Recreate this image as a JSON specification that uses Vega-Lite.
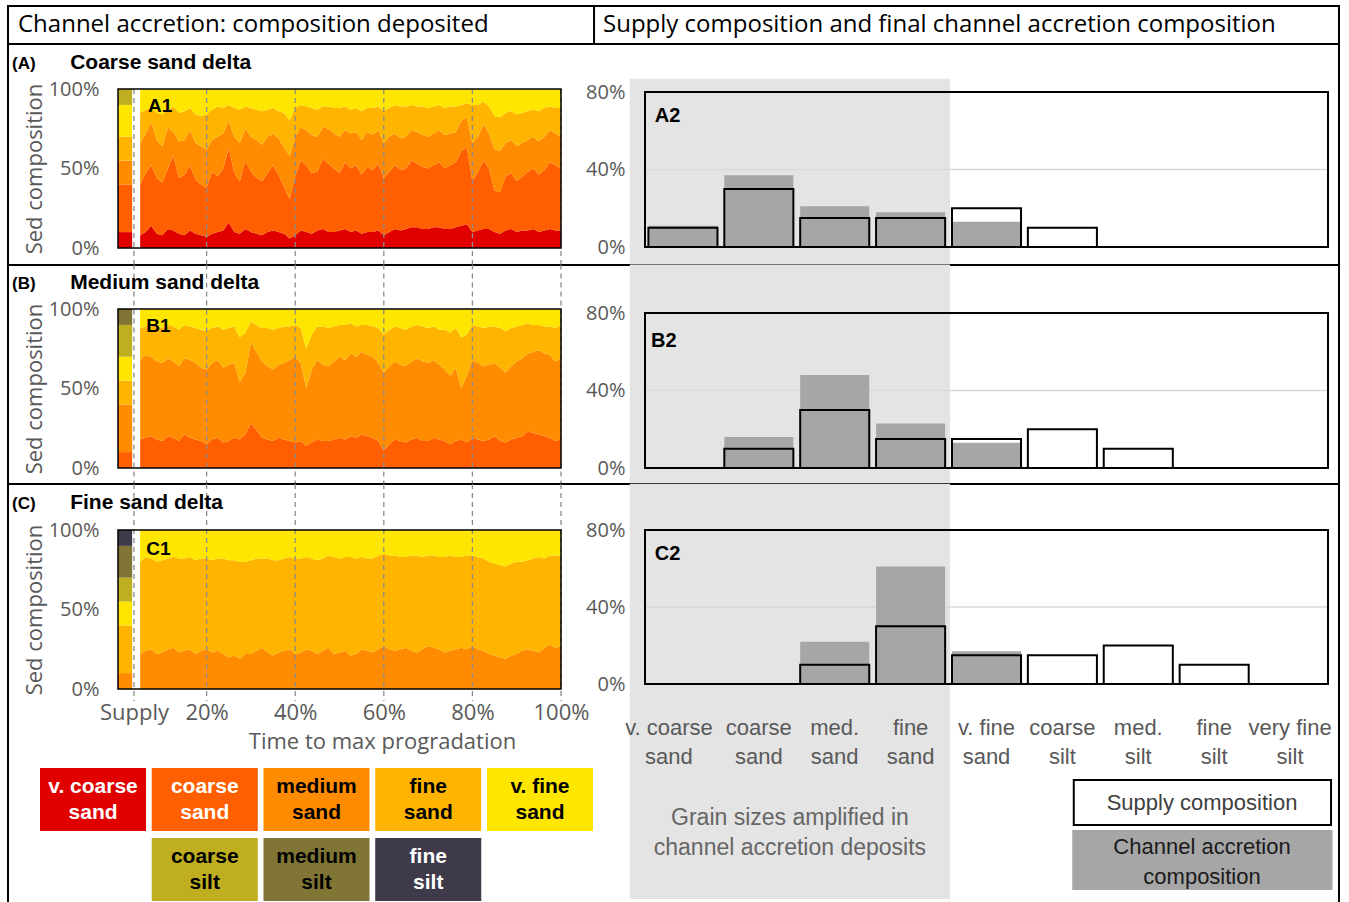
{
 "$schema": "https://vega.github.io/schema/vega-lite/v6.json",
 "background": "white",
 "padding": {"left": 7, "top": 4, "right": 0, "bottom": 0},
 "spacing": 0,
 "bounds": "flush",
 "config": {
  "view": {"stroke": "black", "strokeWidth": 2},
  "font": "Liberation Sans",
  "axis": {"labelFont": "Open Sans", "titleFont": "Open Sans", "labelColor": "#595959", "titleColor": "#595959", "domain": false, "ticks": false, "grid": false, "titleFontWeight": "normal"}
 },
 "datasets": {
  "bars": [
   {"panel": "A", "grain": "v. coarse sand", "rank": 1, "supply": 10, "channel": 11},
   {"panel": "A", "grain": "coarse sand", "rank": 2, "supply": 30, "channel": 37},
   {"panel": "A", "grain": "med. sand", "rank": 3, "supply": 15, "channel": 21},
   {"panel": "A", "grain": "fine sand", "rank": 4, "supply": 15, "channel": 18},
   {"panel": "A", "grain": "v. fine sand", "rank": 5, "supply": 20, "channel": 13},
   {"panel": "A", "grain": "coarse silt", "rank": 6, "supply": 10, "channel": 0},
   {"panel": "B", "grain": "coarse sand", "rank": 2, "supply": 10, "channel": 16},
   {"panel": "B", "grain": "med. sand", "rank": 3, "supply": 30, "channel": 48},
   {"panel": "B", "grain": "fine sand", "rank": 4, "supply": 15, "channel": 23},
   {"panel": "B", "grain": "v. fine sand", "rank": 5, "supply": 15, "channel": 13},
   {"panel": "B", "grain": "coarse silt", "rank": 6, "supply": 20, "channel": 0},
   {"panel": "B", "grain": "med. silt", "rank": 7, "supply": 10, "channel": 0},
   {"panel": "C", "grain": "med. sand", "rank": 3, "supply": 10, "channel": 22},
   {"panel": "C", "grain": "fine sand", "rank": 4, "supply": 30, "channel": 61},
   {"panel": "C", "grain": "v. fine sand", "rank": 5, "supply": 15, "channel": 17},
   {"panel": "C", "grain": "coarse silt", "rank": 6, "supply": 15, "channel": 0},
   {"panel": "C", "grain": "med. silt", "rank": 7, "supply": 20, "channel": 0},
   {"panel": "C", "grain": "fine silt", "rank": 8, "supply": 10, "channel": 0}
  ],
  "legend": [
   {"grain": "v. coarse sand", "size": "v. coarse", "type": "sand", "lines": ["v. coarse", "sand"]},
   {"grain": "coarse sand", "size": "coarse", "type": "sand", "lines": ["coarse", "sand"]},
   {"grain": "medium sand", "size": "medium", "type": "sand", "lines": ["medium", "sand"]},
   {"grain": "fine sand", "size": "fine", "type": "sand", "lines": ["fine", "sand"]},
   {"grain": "v. fine sand", "size": "v. fine", "type": "sand", "lines": ["v. fine", "sand"]},
   {"grain": "coarse silt", "size": "coarse", "type": "silt", "lines": ["coarse", "silt"]},
   {"grain": "medium silt", "size": "medium", "type": "silt", "lines": ["medium", "silt"]},
   {"grain": "fine silt", "size": "fine", "type": "silt", "lines": ["fine", "silt"]}
  ],
  "a1": [
   {"t": 5, "b1": 8, "b2": 40, "b3": 66, "b4": 85},
   {"t": 6.25, "b1": 10, "b2": 47, "b3": 72, "b4": 87},
   {"t": 7.5, "b1": 14, "b2": 52, "b3": 79, "b4": 88},
   {"t": 8.75, "b1": 9, "b2": 44, "b3": 68, "b4": 85},
   {"t": 10, "b1": 8, "b2": 41, "b3": 64, "b4": 84},
   {"t": 11.25, "b1": 12, "b2": 50, "b3": 76, "b4": 87},
   {"t": 12.5, "b1": 11, "b2": 58, "b3": 73, "b4": 89},
   {"t": 13.75, "b1": 9, "b2": 44, "b3": 67, "b4": 85},
   {"t": 15, "b1": 8, "b2": 46, "b3": 68, "b4": 86},
   {"t": 16.25, "b1": 11, "b2": 52, "b3": 74, "b4": 88},
   {"t": 17.5, "b1": 9, "b2": 43, "b3": 66, "b4": 84},
   {"t": 18.75, "b1": 8, "b2": 40, "b3": 64, "b4": 83},
   {"t": 20, "b1": 7, "b2": 38, "b3": 62, "b4": 84},
   {"t": 21.25, "b1": 9, "b2": 48, "b3": 68, "b4": 87},
   {"t": 22.5, "b1": 10, "b2": 45, "b3": 70, "b4": 89},
   {"t": 23.75, "b1": 11, "b2": 50, "b3": 72, "b4": 88},
   {"t": 25, "b1": 16, "b2": 63, "b3": 80, "b4": 90},
   {"t": 26.25, "b1": 10, "b2": 47, "b3": 70, "b4": 88},
   {"t": 27.5, "b1": 9, "b2": 42, "b3": 66, "b4": 87},
   {"t": 28.75, "b1": 12, "b2": 55, "b3": 75, "b4": 89},
   {"t": 30, "b1": 10, "b2": 48, "b3": 70, "b4": 88},
   {"t": 31.25, "b1": 9, "b2": 44, "b3": 68, "b4": 87},
   {"t": 32.5, "b1": 8, "b2": 42, "b3": 65, "b4": 86},
   {"t": 33.75, "b1": 10, "b2": 47, "b3": 70, "b4": 87},
   {"t": 35, "b1": 11, "b2": 52, "b3": 72, "b4": 88},
   {"t": 36.25, "b1": 10, "b2": 46, "b3": 69, "b4": 86},
   {"t": 37.5, "b1": 9, "b2": 38, "b3": 63, "b4": 85},
   {"t": 38.75, "b1": 6, "b2": 31, "b3": 58, "b4": 80},
   {"t": 40, "b1": 8, "b2": 45, "b3": 70, "b4": 88},
   {"t": 41.25, "b1": 11, "b2": 55, "b3": 76, "b4": 90},
   {"t": 42.5, "b1": 10, "b2": 52, "b3": 74, "b4": 89},
   {"t": 43.75, "b1": 9, "b2": 47, "b3": 71, "b4": 88},
   {"t": 45, "b1": 11, "b2": 48, "b3": 70, "b4": 87},
   {"t": 46.25, "b1": 12, "b2": 56, "b3": 76, "b4": 89},
   {"t": 47.5, "b1": 10, "b2": 53, "b3": 75, "b4": 89},
   {"t": 48.75, "b1": 10, "b2": 50, "b3": 72, "b4": 88},
   {"t": 50, "b1": 11, "b2": 47, "b3": 70, "b4": 88},
   {"t": 51.25, "b1": 12, "b2": 54, "b3": 74, "b4": 89},
   {"t": 52.5, "b1": 10, "b2": 50, "b3": 72, "b4": 87},
   {"t": 53.75, "b1": 11, "b2": 52, "b3": 73, "b4": 88},
   {"t": 55, "b1": 9, "b2": 46, "b3": 68, "b4": 86},
   {"t": 56.25, "b1": 10, "b2": 51, "b3": 73, "b4": 88},
   {"t": 57.5, "b1": 10, "b2": 49, "b3": 71, "b4": 88},
   {"t": 58.75, "b1": 11, "b2": 53, "b3": 74, "b4": 89},
   {"t": 60, "b1": 8, "b2": 44, "b3": 66, "b4": 86},
   {"t": 61.25, "b1": 10, "b2": 48, "b3": 70, "b4": 88},
   {"t": 62.5, "b1": 12, "b2": 52, "b3": 72, "b4": 90},
   {"t": 63.75, "b1": 11, "b2": 49, "b3": 69, "b4": 89},
   {"t": 65, "b1": 12, "b2": 50, "b3": 70, "b4": 89},
   {"t": 66.25, "b1": 13, "b2": 55, "b3": 74, "b4": 90},
   {"t": 67.5, "b1": 13, "b2": 53, "b3": 73, "b4": 89},
   {"t": 68.75, "b1": 12, "b2": 51, "b3": 71, "b4": 89},
   {"t": 70, "b1": 12, "b2": 50, "b3": 70, "b4": 88},
   {"t": 71.25, "b1": 13, "b2": 52, "b3": 72, "b4": 89},
   {"t": 72.5, "b1": 13, "b2": 54, "b3": 74, "b4": 90},
   {"t": 73.75, "b1": 12, "b2": 50, "b3": 71, "b4": 88},
   {"t": 75, "b1": 12, "b2": 52, "b3": 72, "b4": 89},
   {"t": 76.25, "b1": 13, "b2": 54, "b3": 73, "b4": 89},
   {"t": 77.5, "b1": 14, "b2": 61, "b3": 80, "b4": 90},
   {"t": 78.75, "b1": 15, "b2": 63, "b3": 82, "b4": 91},
   {"t": 80, "b1": 10, "b2": 42, "b3": 66, "b4": 90},
   {"t": 81.25, "b1": 11, "b2": 48, "b3": 70, "b4": 90},
   {"t": 82.5, "b1": 12, "b2": 55, "b3": 78, "b4": 92},
   {"t": 83.75, "b1": 12, "b2": 50, "b3": 72, "b4": 89},
   {"t": 85, "b1": 10, "b2": 36, "b3": 62, "b4": 83},
   {"t": 86.25, "b1": 9, "b2": 35, "b3": 61, "b4": 82},
   {"t": 87.5, "b1": 11, "b2": 45, "b3": 66, "b4": 85},
   {"t": 88.75, "b1": 12, "b2": 47, "b3": 68, "b4": 86},
   {"t": 90, "b1": 10, "b2": 42, "b3": 64, "b4": 84},
   {"t": 91.25, "b1": 11, "b2": 45, "b3": 66, "b4": 85},
   {"t": 92.5, "b1": 11, "b2": 48, "b3": 68, "b4": 86},
   {"t": 93.75, "b1": 12, "b2": 50, "b3": 70, "b4": 87},
   {"t": 95, "b1": 10, "b2": 46, "b3": 67, "b4": 86},
   {"t": 96.25, "b1": 11, "b2": 49, "b3": 70, "b4": 88},
   {"t": 97.5, "b1": 12, "b2": 54, "b3": 74, "b4": 89},
   {"t": 98.75, "b1": 11, "b2": 52, "b3": 72, "b4": 88},
   {"t": 100, "b1": 11, "b2": 50, "b3": 70, "b4": 88}
  ],
  "b1": [
   {"t": 5, "b1": 18, "b2": 68, "b3": 88},
   {"t": 6.25, "b1": 19, "b2": 71, "b3": 89},
   {"t": 7.5, "b1": 20, "b2": 70, "b3": 90},
   {"t": 8.75, "b1": 18, "b2": 67, "b3": 89},
   {"t": 10, "b1": 17, "b2": 66, "b3": 88},
   {"t": 11.25, "b1": 20, "b2": 69, "b3": 90},
   {"t": 12.5, "b1": 19, "b2": 67, "b3": 89},
   {"t": 13.75, "b1": 17, "b2": 64, "b3": 87},
   {"t": 15, "b1": 21, "b2": 69, "b3": 90},
   {"t": 16.25, "b1": 19, "b2": 68, "b3": 89},
   {"t": 17.5, "b1": 18, "b2": 66, "b3": 88},
   {"t": 18.75, "b1": 17, "b2": 63, "b3": 87},
   {"t": 20, "b1": 15, "b2": 62, "b3": 86},
   {"t": 21.25, "b1": 18, "b2": 66, "b3": 88},
   {"t": 22.5, "b1": 19, "b2": 68, "b3": 89},
   {"t": 23.75, "b1": 16, "b2": 63, "b3": 87},
   {"t": 25, "b1": 17, "b2": 65, "b3": 88},
   {"t": 26.25, "b1": 19, "b2": 66, "b3": 89},
   {"t": 27.5, "b1": 18, "b2": 54, "b3": 82},
   {"t": 28.75, "b1": 21, "b2": 60, "b3": 85},
   {"t": 30, "b1": 28, "b2": 79, "b3": 92},
   {"t": 31.25, "b1": 24, "b2": 73, "b3": 90},
   {"t": 32.5, "b1": 19, "b2": 67, "b3": 88},
   {"t": 33.75, "b1": 18, "b2": 64, "b3": 88},
   {"t": 35, "b1": 17, "b2": 62, "b3": 87},
   {"t": 36.25, "b1": 19, "b2": 65, "b3": 88},
   {"t": 37.5, "b1": 18, "b2": 66, "b3": 89},
   {"t": 38.75, "b1": 17, "b2": 68, "b3": 89},
   {"t": 40, "b1": 16, "b2": 70, "b3": 90},
   {"t": 41.25, "b1": 17, "b2": 66, "b3": 88},
   {"t": 42.5, "b1": 14, "b2": 50, "b3": 75},
   {"t": 43.75, "b1": 16, "b2": 62, "b3": 84},
   {"t": 45, "b1": 18, "b2": 68, "b3": 89},
   {"t": 46.25, "b1": 17, "b2": 65, "b3": 89},
   {"t": 47.5, "b1": 17, "b2": 64, "b3": 88},
   {"t": 48.75, "b1": 18, "b2": 67, "b3": 89},
   {"t": 50, "b1": 19, "b2": 70, "b3": 90},
   {"t": 51.25, "b1": 18, "b2": 68, "b3": 90},
   {"t": 52.5, "b1": 20, "b2": 72, "b3": 91},
   {"t": 53.75, "b1": 19, "b2": 70, "b3": 89},
   {"t": 55, "b1": 21, "b2": 73, "b3": 90},
   {"t": 56.25, "b1": 20, "b2": 71, "b3": 90},
   {"t": 57.5, "b1": 19, "b2": 70, "b3": 89},
   {"t": 58.75, "b1": 17, "b2": 66, "b3": 88},
   {"t": 60, "b1": 11, "b2": 60, "b3": 84},
   {"t": 61.25, "b1": 15, "b2": 64, "b3": 87},
   {"t": 62.5, "b1": 18, "b2": 67, "b3": 89},
   {"t": 63.75, "b1": 17, "b2": 65, "b3": 88},
   {"t": 65, "b1": 16, "b2": 64, "b3": 87},
   {"t": 66.25, "b1": 18, "b2": 67, "b3": 89},
   {"t": 67.5, "b1": 19, "b2": 69, "b3": 90},
   {"t": 68.75, "b1": 17, "b2": 67, "b3": 89},
   {"t": 70, "b1": 17, "b2": 66, "b3": 88},
   {"t": 71.25, "b1": 19, "b2": 68, "b3": 89},
   {"t": 72.5, "b1": 18, "b2": 65, "b3": 87},
   {"t": 73.75, "b1": 17, "b2": 62, "b3": 87},
   {"t": 75, "b1": 15, "b2": 58, "b3": 85},
   {"t": 76.25, "b1": 17, "b2": 63, "b3": 88},
   {"t": 77.5, "b1": 18, "b2": 50, "b3": 82},
   {"t": 78.75, "b1": 16, "b2": 58, "b3": 84},
   {"t": 80, "b1": 19, "b2": 68, "b3": 90},
   {"t": 81.25, "b1": 18, "b2": 66, "b3": 89},
   {"t": 82.5, "b1": 17, "b2": 64, "b3": 88},
   {"t": 83.75, "b1": 18, "b2": 65, "b3": 89},
   {"t": 85, "b1": 20, "b2": 66, "b3": 89},
   {"t": 86.25, "b1": 17, "b2": 63, "b3": 88},
   {"t": 87.5, "b1": 16, "b2": 60, "b3": 86},
   {"t": 88.75, "b1": 18, "b2": 64, "b3": 88},
   {"t": 90, "b1": 19, "b2": 67, "b3": 89},
   {"t": 91.25, "b1": 20, "b2": 69, "b3": 90},
   {"t": 92.5, "b1": 23, "b2": 72, "b3": 91},
   {"t": 93.75, "b1": 22, "b2": 73, "b3": 90},
   {"t": 95, "b1": 21, "b2": 74, "b3": 90},
   {"t": 96.25, "b1": 20, "b2": 72, "b3": 89},
   {"t": 97.5, "b1": 19, "b2": 71, "b3": 89},
   {"t": 98.75, "b1": 17, "b2": 67, "b3": 88},
   {"t": 100, "b1": 18, "b2": 69, "b3": 90}
  ],
  "c1": [
   {"t": 5, "b1": 22, "b2": 80},
   {"t": 6.25, "b1": 24, "b2": 83},
   {"t": 7.5, "b1": 25, "b2": 82},
   {"t": 8.75, "b1": 22, "b2": 80},
   {"t": 10, "b1": 23, "b2": 81},
   {"t": 11.25, "b1": 25, "b2": 82},
   {"t": 12.5, "b1": 26, "b2": 83},
   {"t": 13.75, "b1": 23, "b2": 82},
   {"t": 15, "b1": 24, "b2": 82},
   {"t": 16.25, "b1": 25, "b2": 83},
   {"t": 17.5, "b1": 22, "b2": 81},
   {"t": 18.75, "b1": 24, "b2": 82},
   {"t": 20, "b1": 25, "b2": 82},
   {"t": 21.25, "b1": 23, "b2": 81},
   {"t": 22.5, "b1": 24, "b2": 82},
   {"t": 23.75, "b1": 22, "b2": 82},
   {"t": 25, "b1": 20, "b2": 81},
   {"t": 26.25, "b1": 21, "b2": 81},
   {"t": 27.5, "b1": 19, "b2": 80},
   {"t": 28.75, "b1": 22, "b2": 80},
   {"t": 30, "b1": 22, "b2": 81},
   {"t": 31.25, "b1": 24, "b2": 82},
   {"t": 32.5, "b1": 26, "b2": 82},
   {"t": 33.75, "b1": 23, "b2": 82},
   {"t": 35, "b1": 21, "b2": 81},
   {"t": 36.25, "b1": 23, "b2": 81},
   {"t": 37.5, "b1": 24, "b2": 82},
   {"t": 38.75, "b1": 25, "b2": 83},
   {"t": 40, "b1": 22, "b2": 82},
   {"t": 41.25, "b1": 23, "b2": 82},
   {"t": 42.5, "b1": 25, "b2": 83},
   {"t": 43.75, "b1": 24, "b2": 82},
   {"t": 45, "b1": 22, "b2": 81},
   {"t": 46.25, "b1": 24, "b2": 82},
   {"t": 47.5, "b1": 26, "b2": 84},
   {"t": 48.75, "b1": 22, "b2": 83},
   {"t": 50, "b1": 23, "b2": 82},
   {"t": 51.25, "b1": 24, "b2": 83},
   {"t": 52.5, "b1": 21, "b2": 83},
   {"t": 53.75, "b1": 22, "b2": 82},
   {"t": 55, "b1": 25, "b2": 83},
   {"t": 56.25, "b1": 24, "b2": 82},
   {"t": 57.5, "b1": 23, "b2": 82},
   {"t": 58.75, "b1": 25, "b2": 84},
   {"t": 60, "b1": 27, "b2": 85},
   {"t": 61.25, "b1": 25, "b2": 84},
   {"t": 62.5, "b1": 24, "b2": 84},
   {"t": 63.75, "b1": 25, "b2": 83},
   {"t": 65, "b1": 26, "b2": 83},
   {"t": 66.25, "b1": 24, "b2": 84},
   {"t": 67.5, "b1": 23, "b2": 84},
   {"t": 68.75, "b1": 25, "b2": 83},
   {"t": 70, "b1": 27, "b2": 84},
   {"t": 71.25, "b1": 26, "b2": 84},
   {"t": 72.5, "b1": 25, "b2": 83},
   {"t": 73.75, "b1": 23, "b2": 83},
   {"t": 75, "b1": 24, "b2": 84},
   {"t": 76.25, "b1": 25, "b2": 83},
   {"t": 77.5, "b1": 26, "b2": 83},
   {"t": 78.75, "b1": 25, "b2": 84},
   {"t": 80, "b1": 27, "b2": 84},
   {"t": 81.25, "b1": 25, "b2": 83},
   {"t": 82.5, "b1": 24, "b2": 82},
   {"t": 83.75, "b1": 22, "b2": 80},
   {"t": 85, "b1": 21, "b2": 79},
   {"t": 86.25, "b1": 20, "b2": 78},
   {"t": 87.5, "b1": 19, "b2": 77},
   {"t": 88.75, "b1": 21, "b2": 79},
   {"t": 90, "b1": 22, "b2": 80},
   {"t": 91.25, "b1": 24, "b2": 80},
   {"t": 92.5, "b1": 25, "b2": 81},
   {"t": 93.75, "b1": 24, "b2": 82},
   {"t": 95, "b1": 23, "b2": 83},
   {"t": 96.25, "b1": 26, "b2": 82},
   {"t": 97.5, "b1": 28, "b2": 84},
   {"t": 98.75, "b1": 26, "b2": 84},
   {"t": 100, "b1": 27, "b2": 84}
  ],
  "ticks": [{"tick": 3.6}, {"tick": 20}, {"tick": 40}, {"tick": 60}, {"tick": 80}, {"tick": 100}]
 },
 "vconcat": [
  {
   "width": 1331, "height": 38,
   "data": {"values": [{"left": "Channel accretion: composition deposited", "right": "Supply composition and final channel accretion composition"}]},
   "layer": [
    {"mark": {"type": "rule", "color": "black", "strokeWidth": 2}, "encoding": {"x": {"datum": 0.4403, "type": "quantitative", "scale": {"domain": [0, 1], "nice": false, "zero": false}, "axis": null}}},
    {"mark": {"type": "text", "align": "left", "baseline": "middle", "dx": 10, "font": "Open Sans", "fontSize": 24, "color": "black"}, "encoding": {"x": {"datum": 0, "type": "quantitative"}, "text": {"field": "left"}}},
    {"mark": {"type": "text", "align": "left", "baseline": "middle", "dx": 9, "font": "Open Sans", "fontSize": 24, "color": "black"}, "encoding": {"x": {"datum": 0.4403, "type": "quantitative"}, "text": {"field": "right"}}}
   ]
  },
  {
   "width": 1331, "height": 221,
   "resolve": {"scale": {"x": "independent", "y": "independent", "color": "independent"}, "axis": {"x": "independent", "y": "independent"}},
   "layer": [
    {
     "data": {"values": [{"panel": "A2"}]},
     "layer": [
      {"mark": {"type": "rect", "color": "#e4e4e4"}, "encoding": {"x": {"datum": -0.2, "type": "quantitative", "scale": {"domain": [0, 9], "range": [637, 1320], "nice": false, "zero": false}, "axis": null}, "x2": {"datum": 4.02}, "y": {"datum": -9.5, "type": "quantitative", "scale": {"domain": [0, 80], "range": [203, 48], "nice": false, "zero": false}, "axis": null}, "y2": {"datum": 86.9}}},
      {"mark": {"type": "rule", "color": "#d9d9d9", "strokeWidth": 1.5}, "encoding": {"x": {"datum": 0, "type": "quantitative"}, "x2": {"datum": 9}, "y": {"datum": 40, "type": "quantitative"}}},
      {"mark": {"type": "rect", "filled": false, "color": "black", "strokeWidth": 2}, "encoding": {"x": {"datum": 0, "type": "quantitative"}, "x2": {"datum": 9}, "y": {"datum": 0, "type": "quantitative"}, "y2": {"datum": 80}}},
      {"mark": {"type": "text", "align": "left", "baseline": "middle", "fontSize": 20, "fontWeight": "bold", "color": "black"}, "encoding": {"x": {"datum": 0.13, "type": "quantitative"}, "y": {"datum": 67.4, "type": "quantitative"}, "text": {"field": "panel"}}}
     ]
    },
    {
     "data": {"name": "a1"},
     "layer": [
      {"mark": {"type": "area", "color": "#e00000"}, "encoding": {"x": {"field": "t", "type": "quantitative", "scale": {"domain": [0, 100], "range": [110, 553], "nice": false, "zero": false}, "axis": null}, "y": {"field": "b1", "type": "quantitative", "scale": {"domain": [0, 100], "range": [204, 45], "nice": false}, "axis": {"orient": "left", "offset": -110, "values": [0, 50, 100], "labelExpr": "datum.value + '%'", "labelFontSize": 20, "labelPadding": 19, "title": "Sed composition", "titleFontSize": 22, "titlePadding": 2}}}},
      {"mark": {"type": "area", "color": "#ff5f00"}, "encoding": {"x": {"field": "t", "type": "quantitative"}, "y": {"field": "b2", "type": "quantitative"}, "y2": {"field": "b1"}}},
      {"mark": {"type": "area", "color": "#ff8c00"}, "encoding": {"x": {"field": "t", "type": "quantitative"}, "y": {"field": "b3", "type": "quantitative"}, "y2": {"field": "b2"}}},
      {"mark": {"type": "area", "color": "#ffb400"}, "encoding": {"x": {"field": "t", "type": "quantitative"}, "y": {"field": "b4", "type": "quantitative"}, "y2": {"field": "b3"}}},
      {"mark": {"type": "area", "color": "#ffe600"}, "encoding": {"x": {"field": "t", "type": "quantitative"}, "y": {"field": "b4", "type": "quantitative"}, "y2": {"datum": 100}}},
      {"data": {"name": "bars"}, "transform": [{"filter": "datum.panel == 'A'"}, {"stack": "supply", "groupby": [], "sort": [{"field": "rank", "order": "ascending"}], "as": ["s0", "s1"]}], "mark": {"type": "rect"}, "encoding": {"x": {"datum": 0, "type": "quantitative"}, "x2": {"datum": 3.2}, "y": {"field": "s0", "type": "quantitative"}, "y2": {"field": "s1"}, "color": {"field": "grain", "type": "nominal", "scale": {"domain": ["v. coarse sand", "coarse sand", "med. sand", "fine sand", "v. fine sand", "coarse silt", "med. silt", "fine silt"], "range": ["#e00000", "#ff5f00", "#ff8c00", "#ffb400", "#ffe600", "#bfae1f", "#807535", "#3e3a4a"]}, "legend": null}}},
      {"data": {"name": "ticks"}, "mark": {"type": "rule", "color": "#8c8c8c", "strokeDash": [5, 4], "strokeWidth": 1.3}, "encoding": {"x": {"field": "tick", "type": "quantitative"}, "y": {"datum": 100, "type": "quantitative"}, "y2": {"datum": -11}}},
      {"data": {"values": [{}]}, "mark": {"type": "rect", "filled": false, "color": "black", "strokeWidth": 1.5}, "encoding": {"x": {"datum": 0, "type": "quantitative"}, "x2": {"datum": 100}, "y": {"datum": 0, "type": "quantitative"}, "y2": {"datum": 100}}},
      {"data": {"values": [{"panel": "A1"}]}, "mark": {"type": "text", "align": "left", "baseline": "middle", "fontSize": 19, "fontWeight": "bold", "color": "black"}, "encoding": {"x": {"datum": 6.8, "type": "quantitative"}, "y": {"datum": 89, "type": "quantitative"}, "text": {"field": "panel"}}},
      {"data": {"values": [{"label": "(A)"}]}, "mark": {"type": "text", "align": "left", "baseline": "alphabetic", "fontSize": 17, "fontWeight": "bold", "color": "black"}, "encoding": {"x": {"datum": -23.9, "type": "quantitative"}, "y": {"datum": 112.6, "type": "quantitative"}, "text": {"field": "label"}}},
      {"data": {"values": [{"label": "Coarse sand delta"}]}, "mark": {"type": "text", "align": "left", "baseline": "alphabetic", "fontSize": 21, "fontWeight": "bold", "color": "black"}, "encoding": {"x": {"datum": -10.8, "type": "quantitative"}, "y": {"datum": 112.6, "type": "quantitative"}, "text": {"field": "label"}}}
     ]
    },
    {
     "data": {"name": "bars"},
     "transform": [{"filter": "datum.panel == 'A'"}],
     "layer": [
      {"mark": {"type": "bar", "color": "#a6a6a6"}, "encoding": {"x": {"field": "grain", "type": "nominal", "scale": {"domain": ["v. coarse sand", "coarse sand", "med. sand", "fine sand", "v. fine sand", "coarse silt", "med. silt", "fine silt", "very fine silt"], "range": [637, 1320], "paddingInner": 0.09, "paddingOuter": 0.045}, "axis": null}, "y": {"field": "channel", "type": "quantitative", "scale": {"domain": [0, 80], "range": [203, 48], "nice": false}, "axis": {"orient": "left", "offset": -637, "values": [0, 40, 80], "labelExpr": "datum.value + '%'", "labelFontSize": 20, "labelPadding": 20, "title": null, "zindex": 1}}}},
      {"mark": {"type": "bar", "fill": "transparent", "stroke": "black", "strokeWidth": 2}, "encoding": {"x": {"field": "grain", "type": "nominal"}, "y": {"field": "supply", "type": "quantitative"}}}
     ]
    }
   ]
  },
  {
   "width": 1331, "height": 219,
   "resolve": {"scale": {"x": "independent", "y": "independent", "color": "independent"}, "axis": {"x": "independent", "y": "independent"}},
   "layer": [
    {
     "data": {"values": [{"panel": "B2"}]},
     "layer": [
      {"mark": {"type": "rect", "color": "#e4e4e4"}, "encoding": {"x": {"datum": -0.2, "type": "quantitative", "scale": {"domain": [0, 9], "range": [637, 1320], "nice": false, "zero": false}, "axis": null}, "x2": {"datum": 4.02}, "y": {"datum": -9, "type": "quantitative", "scale": {"domain": [0, 80], "range": [203, 48], "nice": false, "zero": false}, "axis": null}, "y2": {"datum": 105}}},
      {"mark": {"type": "rule", "color": "#d9d9d9", "strokeWidth": 1.5}, "encoding": {"x": {"datum": 0, "type": "quantitative"}, "x2": {"datum": 9}, "y": {"datum": 40, "type": "quantitative"}}},
      {"mark": {"type": "rect", "filled": false, "color": "black", "strokeWidth": 2}, "encoding": {"x": {"datum": 0, "type": "quantitative"}, "x2": {"datum": 9}, "y": {"datum": 0, "type": "quantitative"}, "y2": {"datum": 80}}},
      {"mark": {"type": "text", "align": "left", "baseline": "middle", "fontSize": 20, "fontWeight": "bold", "color": "black"}, "encoding": {"x": {"datum": 0.08, "type": "quantitative"}, "y": {"datum": 65.5, "type": "quantitative"}, "text": {"field": "panel"}}}
     ]
    },
    {
     "data": {"name": "b1"},
     "layer": [
      {"mark": {"type": "area", "color": "#ff5f00"}, "encoding": {"x": {"field": "t", "type": "quantitative", "scale": {"domain": [0, 100], "range": [110, 553], "nice": false, "zero": false}, "axis": null}, "y": {"field": "b1", "type": "quantitative", "scale": {"domain": [0, 100], "range": [203, 44], "nice": false}, "axis": {"orient": "left", "offset": -110, "values": [0, 50, 100], "labelExpr": "datum.value + '%'", "labelFontSize": 20, "labelPadding": 19, "title": "Sed composition", "titleFontSize": 22, "titlePadding": 2}}}},
      {"mark": {"type": "area", "color": "#ff8c00"}, "encoding": {"x": {"field": "t", "type": "quantitative"}, "y": {"field": "b2", "type": "quantitative"}, "y2": {"field": "b1"}}},
      {"mark": {"type": "area", "color": "#ffb400"}, "encoding": {"x": {"field": "t", "type": "quantitative"}, "y": {"field": "b3", "type": "quantitative"}, "y2": {"field": "b2"}}},
      {"mark": {"type": "area", "color": "#ffe600"}, "encoding": {"x": {"field": "t", "type": "quantitative"}, "y": {"field": "b3", "type": "quantitative"}, "y2": {"datum": 100}}},
      {"data": {"name": "bars"}, "transform": [{"filter": "datum.panel == 'B'"}, {"stack": "supply", "groupby": [], "sort": [{"field": "rank", "order": "ascending"}], "as": ["s0", "s1"]}], "mark": {"type": "rect"}, "encoding": {"x": {"datum": 0, "type": "quantitative"}, "x2": {"datum": 3.2}, "y": {"field": "s0", "type": "quantitative"}, "y2": {"field": "s1"}, "color": {"field": "grain", "type": "nominal", "scale": {"domain": ["v. coarse sand", "coarse sand", "med. sand", "fine sand", "v. fine sand", "coarse silt", "med. silt", "fine silt"], "range": ["#e00000", "#ff5f00", "#ff8c00", "#ffb400", "#ffe600", "#bfae1f", "#807535", "#3e3a4a"]}, "legend": null}}},
      {"data": {"name": "ticks"}, "mark": {"type": "rule", "color": "#8c8c8c", "strokeDash": [5, 4], "strokeWidth": 1.3}, "encoding": {"x": {"field": "tick", "type": "quantitative"}, "y": {"datum": 128, "type": "quantitative"}, "y2": {"datum": -10}}},
      {"data": {"values": [{}]}, "mark": {"type": "rect", "filled": false, "color": "black", "strokeWidth": 1.5}, "encoding": {"x": {"datum": 0, "type": "quantitative"}, "x2": {"datum": 100}, "y": {"datum": 0, "type": "quantitative"}, "y2": {"datum": 100}}},
      {"data": {"values": [{"panel": "B1"}]}, "mark": {"type": "text", "align": "left", "baseline": "middle", "fontSize": 19, "fontWeight": "bold", "color": "black"}, "encoding": {"x": {"datum": 6.4, "type": "quantitative"}, "y": {"datum": 89, "type": "quantitative"}, "text": {"field": "panel"}}},
      {"data": {"values": [{"label": "(B)"}]}, "mark": {"type": "text", "align": "left", "baseline": "alphabetic", "fontSize": 17, "fontWeight": "bold", "color": "black"}, "encoding": {"x": {"datum": -23.9, "type": "quantitative"}, "y": {"datum": 112.6, "type": "quantitative"}, "text": {"field": "label"}}},
      {"data": {"values": [{"label": "Medium sand delta"}]}, "mark": {"type": "text", "align": "left", "baseline": "alphabetic", "fontSize": 21, "fontWeight": "bold", "color": "black"}, "encoding": {"x": {"datum": -10.8, "type": "quantitative"}, "y": {"datum": 112.6, "type": "quantitative"}, "text": {"field": "label"}}}
     ]
    },
    {
     "data": {"name": "bars"},
     "transform": [{"filter": "datum.panel == 'B'"}],
     "layer": [
      {"mark": {"type": "bar", "color": "#a6a6a6"}, "encoding": {"x": {"field": "grain", "type": "nominal", "scale": {"domain": ["v. coarse sand", "coarse sand", "med. sand", "fine sand", "v. fine sand", "coarse silt", "med. silt", "fine silt", "very fine silt"], "range": [637, 1320], "paddingInner": 0.09, "paddingOuter": 0.045}, "axis": null}, "y": {"field": "channel", "type": "quantitative", "scale": {"domain": [0, 80], "range": [203, 48], "nice": false}, "axis": {"orient": "left", "offset": -637, "values": [0, 40, 80], "labelExpr": "datum.value + '%'", "labelFontSize": 20, "labelPadding": 20, "title": null, "zindex": 1}}}},
      {"mark": {"type": "bar", "fill": "transparent", "stroke": "black", "strokeWidth": 2}, "encoding": {"x": {"field": "grain", "type": "nominal"}, "y": {"field": "supply", "type": "quantitative"}}}
     ]
    }
   ]
  },
  {
   "width": 1331, "height": 420,
   "resolve": {"scale": {"x": "independent", "y": "independent", "color": "independent"}, "axis": {"x": "independent", "y": "independent"}},
   "layer": [
    {
     "data": {"values": [{"panel": "C2"}]},
     "layer": [
      {"mark": {"type": "rect", "color": "#e4e4e4"}, "encoding": {"x": {"datum": -0.2, "type": "quantitative", "scale": {"domain": [0, 9], "range": [637, 1320], "nice": false, "zero": false}, "axis": null}, "x2": {"datum": 4.02}, "y": {"datum": -111.7, "type": "quantitative", "scale": {"domain": [0, 80], "range": [200, 46], "nice": false, "zero": false}, "axis": null}, "y2": {"datum": 104}}},
      {"mark": {"type": "rule", "color": "#d9d9d9", "strokeWidth": 1.5}, "encoding": {"x": {"datum": 0, "type": "quantitative"}, "x2": {"datum": 9}, "y": {"datum": 40, "type": "quantitative"}}},
      {"mark": {"type": "rect", "filled": false, "color": "black", "strokeWidth": 2}, "encoding": {"x": {"datum": 0, "type": "quantitative"}, "x2": {"datum": 9}, "y": {"datum": 0, "type": "quantitative"}, "y2": {"datum": 80}}},
      {"mark": {"type": "text", "align": "left", "baseline": "middle", "fontSize": 20, "fontWeight": "bold", "color": "black"}, "encoding": {"x": {"datum": 0.13, "type": "quantitative"}, "y": {"datum": 67.5, "type": "quantitative"}, "text": {"field": "panel"}}},
      {"mark": {"type": "text", "align": "center", "baseline": "middle", "dy": -15, "fontSize": 23, "color": "#666666", "lineHeight": 30}, "encoding": {"x": {"datum": 1.91, "type": "quantitative"}, "y": {"datum": -77.4, "type": "quantitative"}, "text": {"value": ["Grain sizes amplified in", "channel accretion deposits"]}}},
      {"mark": {"type": "rect", "fill": "white", "stroke": "black", "strokeWidth": 2}, "encoding": {"x": {"datum": 5.65, "type": "quantitative"}, "x2": {"datum": 9.04}, "y": {"datum": -49.9, "type": "quantitative"}, "y2": {"datum": -73.2}}},
      {"mark": {"type": "text", "align": "center", "baseline": "middle", "fontSize": 22, "color": "#404040"}, "encoding": {"x": {"datum": 7.34, "type": "quantitative"}, "y": {"datum": -61.8, "type": "quantitative"}, "text": {"value": "Supply composition"}}},
      {"mark": {"type": "rect", "color": "#a6a6a6"}, "encoding": {"x": {"datum": 5.63, "type": "quantitative"}, "x2": {"datum": 9.06}, "y": {"datum": -75.8, "type": "quantitative"}, "y2": {"datum": -107}}},
      {"mark": {"type": "text", "align": "center", "baseline": "middle", "dy": -15, "fontSize": 22, "color": "#1a1a1a", "lineHeight": 30}, "encoding": {"x": {"datum": 7.34, "type": "quantitative"}, "y": {"datum": -92.5, "type": "quantitative"}, "text": {"value": ["Channel accretion", "composition"]}}}
     ]
    },
    {
     "data": {"name": "c1"},
     "layer": [
      {"mark": {"type": "area", "color": "#ff8c00"}, "encoding": {"x": {"field": "t", "type": "quantitative", "scale": {"domain": [0, 100], "range": [110, 553], "nice": false, "zero": false}, "axis": {"orient": "bottom", "offset": -215, "values": [3.6, 20, 40, 60, 80, 100], "labelExpr": "datum.value < 10 ? 'Supply' : datum.value + '%'", "labelFontSize": 22, "labelPadding": 13, "labelFlush": false, "title": "Time to max progradation", "titleFontSize": 22, "titlePadding": 8, "titleX": 374, "zindex": 1}}, "y": {"field": "b1", "type": "quantitative", "scale": {"domain": [0, 100], "range": [205, 46], "nice": false}, "axis": {"orient": "left", "offset": -110, "values": [0, 50, 100], "labelExpr": "datum.value + '%'", "labelFontSize": 20, "labelPadding": 19, "title": "Sed composition", "titleFontSize": 22, "titlePadding": 2}}}},
      {"mark": {"type": "area", "color": "#ffb400"}, "encoding": {"x": {"field": "t", "type": "quantitative"}, "y": {"field": "b2", "type": "quantitative"}, "y2": {"field": "b1"}}},
      {"mark": {"type": "area", "color": "#ffe600"}, "encoding": {"x": {"field": "t", "type": "quantitative"}, "y": {"field": "b2", "type": "quantitative"}, "y2": {"datum": 100}}},
      {"data": {"name": "bars"}, "transform": [{"filter": "datum.panel == 'C'"}, {"stack": "supply", "groupby": [], "sort": [{"field": "rank", "order": "ascending"}], "as": ["s0", "s1"]}], "mark": {"type": "rect"}, "encoding": {"x": {"datum": 0, "type": "quantitative"}, "x2": {"datum": 3.2}, "y": {"field": "s0", "type": "quantitative"}, "y2": {"field": "s1"}, "color": {"field": "grain", "type": "nominal", "scale": {"domain": ["v. coarse sand", "coarse sand", "med. sand", "fine sand", "v. fine sand", "coarse silt", "med. silt", "fine silt"], "range": ["#e00000", "#ff5f00", "#ff8c00", "#ffb400", "#ffe600", "#bfae1f", "#807535", "#3e3a4a"]}, "legend": null}}},
      {"data": {"name": "ticks"}, "mark": {"type": "rule", "color": "#8c8c8c", "strokeDash": [5, 4], "strokeWidth": 1.3}, "encoding": {"x": {"field": "tick", "type": "quantitative"}, "y": {"datum": 129, "type": "quantitative"}, "y2": {"datum": -7.5}}},
      {"data": {"values": [{}]}, "mark": {"type": "rect", "filled": false, "color": "black", "strokeWidth": 1.5}, "encoding": {"x": {"datum": 0, "type": "quantitative"}, "x2": {"datum": 100}, "y": {"datum": 0, "type": "quantitative"}, "y2": {"datum": 100}}},
      {"data": {"values": [{"panel": "C1"}]}, "mark": {"type": "text", "align": "left", "baseline": "middle", "fontSize": 19, "fontWeight": "bold", "color": "black"}, "encoding": {"x": {"datum": 6.4, "type": "quantitative"}, "y": {"datum": 88, "type": "quantitative"}, "text": {"field": "panel"}}},
      {"data": {"values": [{"label": "(C)"}]}, "mark": {"type": "text", "align": "left", "baseline": "alphabetic", "fontSize": 17, "fontWeight": "bold", "color": "black"}, "encoding": {"x": {"datum": -23.9, "type": "quantitative"}, "y": {"datum": 113.2, "type": "quantitative"}, "text": {"field": "label"}}},
      {"data": {"values": [{"label": "Fine sand delta"}]}, "mark": {"type": "text", "align": "left", "baseline": "alphabetic", "fontSize": 21, "fontWeight": "bold", "color": "black"}, "encoding": {"x": {"datum": -10.8, "type": "quantitative"}, "y": {"datum": 113.2, "type": "quantitative"}, "text": {"field": "label"}}}
     ]
    },
    {
     "data": {"name": "bars"},
     "transform": [{"filter": "datum.panel == 'C'"}],
     "layer": [
      {"mark": {"type": "bar", "color": "#a6a6a6"}, "encoding": {"x": {"field": "grain", "type": "nominal", "scale": {"domain": ["v. coarse sand", "coarse sand", "med. sand", "fine sand", "v. fine sand", "coarse silt", "med. silt", "fine silt", "very fine silt"], "range": [637, 1320], "paddingInner": 0.09, "paddingOuter": 0.045}, "axis": {"orient": "bottom", "offset": -220, "labelExpr": "[substring(datum.label, 0, lastindexof(datum.label, ' ')), substring(datum.label, lastindexof(datum.label, ' ') + 1)]", "labelFont": "Liberation Sans", "labelFontSize": 22, "labelPadding": 33, "labelLineHeight": 29, "labelAngle": 0, "labelOffset": {"condition": {"test": "datum.value === 'v. coarse sand'", "value": -14}, "value": 0}, "title": null, "zindex": 1}}, "y": {"field": "channel", "type": "quantitative", "scale": {"domain": [0, 80], "range": [200, 46], "nice": false}, "axis": {"orient": "left", "offset": -637, "values": [0, 40, 80], "labelExpr": "datum.value + '%'", "labelFontSize": 20, "labelPadding": 20, "title": null, "zindex": 1}}}},
      {"mark": {"type": "bar", "fill": "transparent", "stroke": "black", "strokeWidth": 2}, "encoding": {"x": {"field": "grain", "type": "nominal"}, "y": {"field": "supply", "type": "quantitative"}}}
     ]
    },
    {
     "data": {"name": "legend"},
     "layer": [
      {"mark": {"type": "rect"}, "encoding": {"x": {"field": "size", "type": "nominal", "scale": {"domain": ["v. coarse", "coarse", "medium", "fine", "v. fine"], "range": [32, 585], "paddingInner": 0.051, "paddingOuter": 0}, "axis": null}, "y": {"field": "type", "type": "nominal", "scale": {"domain": ["sand", "silt"], "range": [284, 417], "paddingInner": 0.1, "paddingOuter": 0}, "axis": null}, "color": {"field": "grain", "type": "nominal", "scale": {"domain": ["v. coarse sand", "coarse sand", "medium sand", "fine sand", "v. fine sand", "coarse silt", "medium silt", "fine silt"], "range": ["#e00000", "#ff5f00", "#ff8c00", "#ffb400", "#ffe600", "#bfae1f", "#807535", "#3e3a4a"]}, "legend": null}}},
      {"mark": {"type": "text", "fontSize": 21, "fontWeight": "bold", "lineHeight": 26, "baseline": "middle", "align": "center", "dy": -13}, "encoding": {"x": {"field": "size", "type": "nominal"}, "y": {"field": "type", "type": "nominal"}, "text": {"field": "lines"}, "color": {"condition": {"test": "datum.grain == 'v. coarse sand' || datum.grain == 'coarse sand' || datum.grain == 'fine silt'", "value": "white"}, "value": "black"}}}
     ]
    }
   ]
  }
 ]
}
